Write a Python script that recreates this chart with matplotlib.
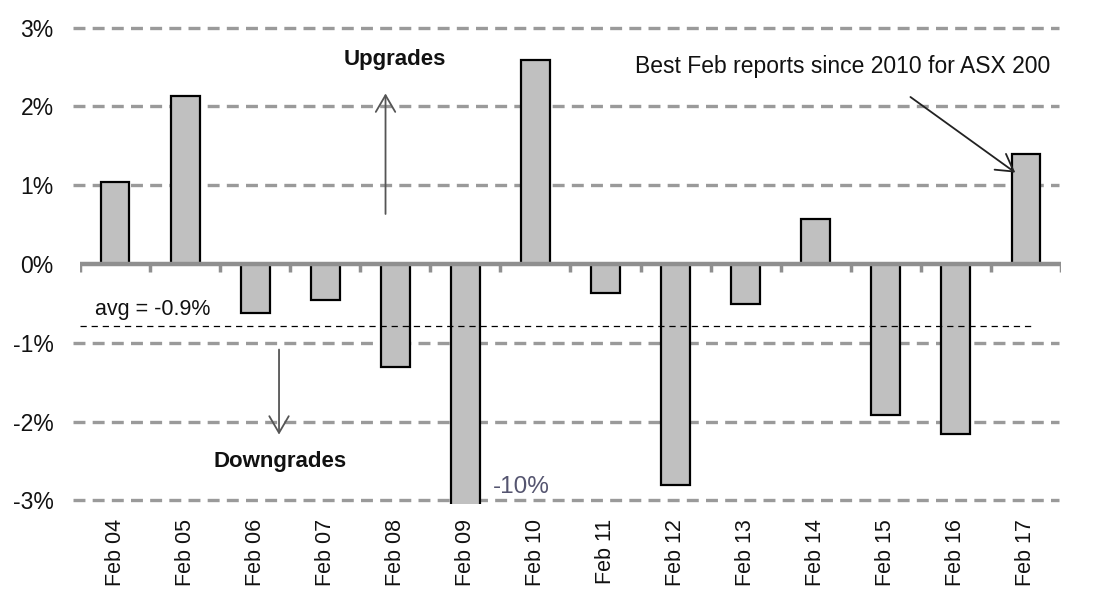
import matplotlib
matplotlib.use("Agg")
import matplotlib.pyplot as plt
import numpy as np

plt.rcParams['font.family'] = ['Liberation Sans', 'DejaVu Sans']
plt.rcParams['lines.scale_dashes'] = False

categories = ["Feb 04", "Feb 05", "Feb 06", "Feb 07", "Feb 08", "Feb 09", "Feb 10",
              "Feb 11", "Feb 12", "Feb 13", "Feb 14", "Feb 15", "Feb 16", "Feb 17"]
values = [1.04, 2.13, -0.62, -0.46, -1.31, -10.0, 2.59,
          -0.37, -2.80, -0.51, 0.57, -1.92, -2.16, 1.40]
avg_line = -0.79
avg_label = "avg = -0.9%"
yticks = [-3, -2, -1, 0, 1, 2, 3]
ytick_labels = ["-3%", "-2%", "-1%", "0%", "1%", "2%", "3%"]

fig = plt.figure(figsize=(11.04, 6.04), dpi=100)
ax = fig.add_axes([0.0725, 0.1662, 0.961 - 0.0725, 0.9608 - 0.1662])

x = np.arange(len(categories))
ax.set_xlim(-0.5, len(categories) - 0.5)
ax.set_ylim(-3.04, 3.05)

grid_color = "#9a9a9a"
for yv in yticks:
    if yv == 0:
        continue
    ax.plot([-0.6, len(categories) - 0.53], [yv, yv], color=grid_color, lw=2.4,
            dashes=(8.6, 5.2), zorder=1, clip_on=False, solid_capstyle='butt',
            dash_capstyle='butt')

ax.bar(x, values, width=0.41, color="#c0c0c0", edgecolor="black", linewidth=1.6, zorder=2)

# average line
ax.plot([-0.5, len(categories) - 0.9], [avg_line, avg_line], color="black", lw=0.9,
        dashes=(4.5, 3.5), zorder=3)

# zero axis line with ticks at category boundaries
ax.axhline(0, color="#8f8f8f", lw=3.2, zorder=4)
bounds = np.arange(-0.5, len(categories), 1.0)
ax.vlines(bounds, -0.1, 0, color="#8f8f8f", lw=2.5, zorder=4)

for s in ax.spines.values():
    s.set_visible(False)

ax.set_yticks(yticks)
ax.set_yticklabels(ytick_labels, fontsize=16.5, color="#111111")
ax.tick_params(axis='y', length=0, pad=19)
ax.set_xticks(x)
ax.set_xticklabels(categories, rotation=90, fontsize=15.5, color="#111111")
ax.tick_params(axis='x', length=0, pad=11)

# annotations
arrow_style = "->,head_length=1.2,head_width=0.7"
ax.text(-0.29, -0.58, avg_label, fontsize=15.5, ha='left', va='center', color="#111111")
ax.text(3.99, 2.59, "Upgrades", fontsize=16, fontweight='bold', ha='center', va='center',
        color="#111111")
ax.annotate("", xy=(3.86, 2.20), xytext=(3.86, 0.60),
            arrowprops=dict(arrowstyle=arrow_style, color="#555555", lw=1.3))
ax.text(2.36, -2.51, "Downgrades", fontsize=16, fontweight='bold', ha='center', va='center',
        color="#111111")
ax.annotate("", xy=(2.34, -2.20), xytext=(2.34, -1.05),
            arrowprops=dict(arrowstyle=arrow_style, color="#555555", lw=1.3))
ax.text(10.39, 2.51, "Best Feb reports since 2010 for ASX 200", fontsize=16.5, ha='center',
        va='center', color="#111111")
ax.annotate("", xy=(12.88, 1.14), xytext=(11.32, 2.14),
            arrowprops=dict(arrowstyle=arrow_style, color="#222222", lw=1.3))
ax.text(5.39, -2.83, "-10%", fontsize=17.5, ha='left', va='center', color="#555570")

fig.savefig("out.png", dpi=100, facecolor="white")
